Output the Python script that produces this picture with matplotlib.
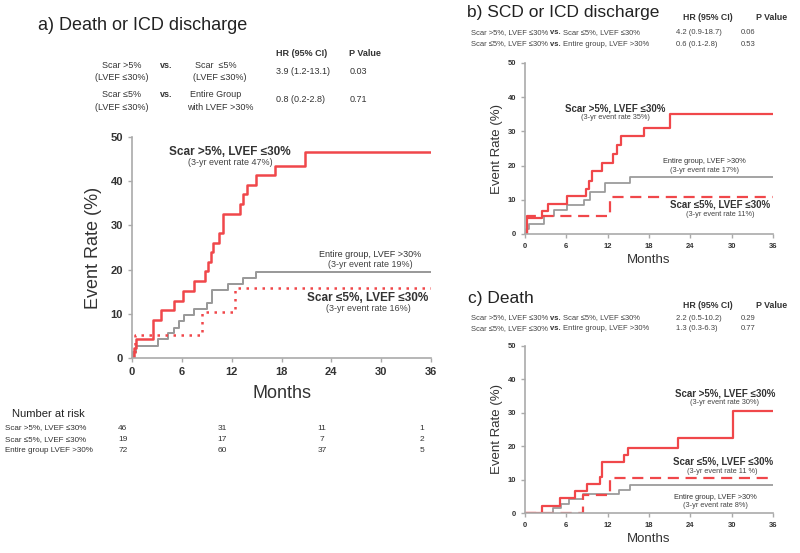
import matplotlib
matplotlib.use("Agg")
import matplotlib.pyplot as plt
import matplotlib.transforms as mtransforms

plt.rcParams['font.family'] = ['Liberation Sans', 'DejaVu Sans']

RED = '#f0474a'
GRAY = '#9a9a9a'
TXT = '#333333'

# ---- panel a: death or ICD discharge ----
a_scar_hi_t = [0.2, 0.5, 2.5, 3.5, 5.0, 6.2, 7.5, 8.8, 9.1, 9.5, 9.8, 10.5, 11.0, 13.0, 13.4, 13.9, 14.9, 17.2, 20.8]
a_scar_hi_y = [2.2, 4.4, 8.7, 10.9, 13.0, 15.2, 17.4, 19.6, 21.7, 23.9, 26.1, 28.3, 32.6, 34.8, 37.0, 39.1, 41.3, 43.5, 46.7]
a_scar_lo_t = [0.4, 8.4, 12.4]
a_scar_lo_y = [5.3, 10.5, 15.8]
a_entire_t = [0.1, 0.5, 3.1, 4.3, 5.1, 5.6, 6.3, 7.5, 9.0, 9.6, 11.6, 13.4, 14.9]
a_entire_y = [1.4, 2.8, 4.2, 5.6, 6.9, 8.3, 9.7, 11.1, 12.5, 15.3, 16.7, 18.1, 19.4]

# ---- panel b: SCD or ICD discharge ----
b_scar_hi_t = [0.25, 2.4, 3.4, 6.1, 8.8, 9.3, 9.75, 11.2, 12.8, 13.3, 14.0, 17.3, 21.0]
b_scar_hi_y = [4.6, 6.6, 8.8, 11.0, 13.2, 15.4, 18.4, 20.9, 23.3, 26.0, 28.6, 31.1, 35.0]
b_scar_lo_t = [0.3, 12.4]
b_scar_lo_y = [5.3, 10.8]
b_entire_t = [0.1, 0.6, 2.8, 4.2, 6.1, 8.5, 9.5, 11.6, 15.3]
b_entire_y = [1.4, 2.8, 5.2, 7.0, 8.5, 10.0, 12.3, 15.0, 16.8]

# ---- panel c: death ----
c_scar_hi_t = [2.4, 5.1, 7.3, 9.0, 10.9, 11.2, 14.4, 15.0, 22.2, 30.2]
c_scar_hi_y = [2.2, 4.4, 6.5, 8.7, 10.9, 15.2, 17.4, 19.6, 22.6, 30.4]
c_scar_lo_t = [8.4, 12.4]
c_scar_lo_y = [5.3, 10.6]
c_entire_t = [4.1, 5.2, 6.4, 8.4, 13.6, 15.3]
c_entire_y = [1.4, 2.8, 4.2, 5.6, 6.9, 8.4]

risk_months = [0, 12, 24, 36]
risk_labels = ['Scar >5%, LVEF \u226430%', 'Scar \u22645%, LVEF \u226430%', 'Entire group LVEF >30%']
risk_counts = [[46, 31, 11, 1], [19, 17, 7, 2], [72, 60, 37, 5]]

W, H = 800, 553
fig = plt.figure(figsize=(8, 5.53), dpi=100)


def fx(x):
    return x / W


def fy(y):
    return 1 - y / H


def km(t, y):
    return [0] + t + [36], [0] + y + [y[-1]]


def style_ax(ax, tsize, lsize, lpad):
    ax.set_xlim(0, 36)
    ax.set_ylim(0, 50)
    ax.set_xticks(range(0, 37, 6))
    ax.set_yticks(range(0, 51, 10))
    for s in ['top', 'right']:
        ax.spines[s].set_visible(False)
    for s in ['left', 'bottom']:
        ax.spines[s].set_color('#aaaaaa')
        ax.spines[s].set_linewidth(1.2)
    ax.tick_params(colors='#aaaaaa', labelcolor=TXT, labelsize=tsize, length=3, width=1)
    for lab in ax.get_xticklabels() + ax.get_yticklabels():
        lab.set_fontweight('bold')
    ax.set_xlabel('Months', fontsize=lsize, color=TXT, labelpad=lpad)
    ax.set_ylabel('Event Rate (%)', fontsize=lsize, color=TXT, labelpad=lpad)
    ax.patch.set_alpha(0)


def curves(ax, hi, lo, ent, lo_style, lw):
    x, y = km(*ent)
    ax.step(x, y, where='post', color=GRAY, lw=lw * 0.8)
    x, y = km(*lo)
    ax.step(x, y, where='post', color=RED, lw=lw, linestyle=lo_style)
    x, y = km(*hi)
    ax.step(x, y, where='post', color=RED, lw=lw)


def label(ax, x, y, head, sub, hsize, ssize, bold=True, gap=2.3):
    ax.text(x, y, head, ha='center', va='center', fontsize=hsize,
            fontweight='bold' if bold else 'normal', color=TXT)
    ax.text(x, y - gap, sub, ha='center', va='center', fontsize=ssize, color='#444444')


def hr_rows(rows):
    for left, right, hr, p, y0 in rows:
        t = fig.text(fx(471), fy(y0), left, fontsize=5.5, va='center', color='#444444')
        fig.canvas.draw()
        bb = t.get_window_extent()
        t2 = fig.text(bb.x1 / fig.dpi / fig.get_figwidth(), fy(y0), 'vs. ', fontsize=5.5,
                      fontweight='bold', va='center', color=TXT)
        fig.canvas.draw()
        bb2 = t2.get_window_extent()
        fig.text(bb2.x1 / fig.dpi / fig.get_figwidth(), fy(y0), right, fontsize=5.5, va='center', color='#444444')
        fig.text(fx(676), fy(y0), hr, fontsize=5.5, va='center', color='#444444')
        fig.text(fx(741), fy(y0), p, fontsize=5.5, va='center', color='#444444')


# ===== panel a =====
axa = fig.add_axes([fx(132), fy(358), fx(431) - fx(132), fy(137) - fy(358)])
curves(axa, (a_scar_hi_t, a_scar_hi_y), (a_scar_lo_t, a_scar_lo_y),
       (a_entire_t, a_entire_y), (0, (1, 2.2)), 1.8)
style_ax(axa, 8, 13, 6)
label(axa, 11.8, 46.6, 'Scar >5%, LVEF \u226430%', '(3-yr event rate 47%)', 8.5, 6.5)
label(axa, 28.7, 23.4, 'Entire group, LVEF >30%', '(3-yr event rate 19%)', 6.5, 6.5, bold=False)
label(axa, 28.4, 13.6, 'Scar \u22645%, LVEF \u226430%', '(3-yr event rate 16%)', 8.5, 6.5)

fig.text(fx(38), fy(25), 'a) Death or ICD discharge', fontsize=13, color='#222222', va='center')
fig.text(fx(302), fy(53), 'HR (95% CI)', fontsize=6.5, fontweight='bold', ha='center', va='center', color=TXT)
fig.text(fx(365), fy(53), 'P Value', fontsize=6.5, fontweight='bold', ha='center', va='center', color=TXT)
rows_a = [
    ('Scar >5%', '(LVEF \u226430%)', 'Scar  \u22645%', '(LVEF \u226430%)', '3.9 (1.2-13.1)', '0.03', 66),
    ('Scar \u22645%', '(LVEF \u226430%)', 'Entire Group', 'with LVEF >30%', '0.8 (0.2-2.8)', '0.71', 95),
]
for l1, l2, r1, r2, hr, p, y0 in rows_a:
    fig.text(fx(122), fy(y0), l1, fontsize=6.5, ha='center', va='center', color=TXT)
    fig.text(fx(122), fy(y0 + 12), l2, fontsize=6.5, ha='center', va='center', color=TXT)
    fig.text(fx(166), fy(y0), 'vs.', fontsize=6.5, fontweight='bold', ha='center', va='center', color=TXT)
    fig.text(fx(216), fy(y0), r1, fontsize=6.5, ha='center', va='center', color=TXT)
    fig.text(fx(220), fy(y0 + 12), r2, fontsize=6.5, ha='center', va='center', color=TXT)
    fig.text(fx(276), fy(y0 + 5), hr, fontsize=6.5, ha='left', va='center', color=TXT)
    fig.text(fx(350), fy(y0 + 5), p, fontsize=6.5, ha='left', va='center', color=TXT)

# number at risk
fig.text(fx(12), fy(414), 'Number at risk', fontsize=8, va='center', color='#222222')
trans = mtransforms.blended_transform_factory(axa.transData, fig.transFigure)
for i, (name, counts) in enumerate(zip(risk_labels, risk_counts)):
    yy = fy(428 + i * 11.5)
    fig.text(fx(5), yy, name, fontsize=5.8, va='center', color='#333333')
    for m, c in zip(risk_months, counts):
        axa.text(m - 1.1, yy, str(c), transform=trans, fontsize=6, ha='center', va='center', color='#333333')

# ===== panel b =====
axb = fig.add_axes([fx(525), fy(234), fx(773) - fx(525), fy(63) - fy(234)])
curves(axb, (b_scar_hi_t, b_scar_hi_y), (b_scar_lo_t, b_scar_lo_y),
       (b_entire_t, b_entire_y), (0, (5, 3)), 1.6)
style_ax(axb, 5.5, 9.5, 3)
label(axb, 13.1, 36.8, 'Scar >5%, LVEF \u226430%', '(3-yr event rate 35%)', 7, 5.3, gap=2.7)
label(axb, 26.1, 21.3, 'Entire group, LVEF >30%', '(3-yr event rate 17%)', 5.3, 5.3, bold=False, gap=2.6)
label(axb, 28.3, 8.5, 'Scar \u22645%, LVEF \u226430%', '(3-yr event rate 11%)', 7, 5.3, gap=2.7)

fig.text(fx(467), fy(13), 'b) SCD or ICD discharge', fontsize=12.5, color='#222222', va='center')
fig.text(fx(708), fy(18), 'HR (95% CI)', fontsize=6.3, fontweight='bold', ha='center', va='center', color=TXT)
fig.text(fx(772), fy(18), 'P Value', fontsize=6.3, fontweight='bold', ha='center', va='center', color=TXT)
hr_rows([
    ('Scar >5%, LVEF \u226430% ', 'Scar \u22645%, LVEF \u226430%', '4.2 (0.9-18.7)', '0.06', 33),
    ('Scar \u22645%, LVEF \u226430% ', 'Entire group, LVEF >30%', '0.6 (0.1-2.8)', '0.53', 44),
])

# ===== panel c =====
axc = fig.add_axes([fx(525), fy(513), fx(773) - fx(525), fy(346) - fy(513)])
curves(axc, (c_scar_hi_t, c_scar_hi_y), (c_scar_lo_t, c_scar_lo_y),
       (c_entire_t, c_entire_y), (0, (5, 3)), 1.6)
style_ax(axc, 5.5, 9.5, 3)
label(axc, 29.0, 35.9, 'Scar >5%, LVEF \u226430%', '(3-yr event rate 30%)', 7, 5.3, gap=2.9)
label(axc, 28.7, 15.3, 'Scar \u22645%, LVEF \u226430%', '(3-yr event rate 11 %)', 7, 5.3, gap=2.9)
label(axc, 27.6, 4.6, 'Entire group, LVEF >30%', '(3-yr event rate 8%)', 5.3, 5.3, bold=False, gap=2.5)

fig.text(fx(468), fy(298), 'c) Death', fontsize=12.5, color='#222222', va='center')
fig.text(fx(708), fy(305), 'HR (95% CI)', fontsize=6.3, fontweight='bold', ha='center', va='center', color=TXT)
fig.text(fx(772), fy(305), 'P Value', fontsize=6.3, fontweight='bold', ha='center', va='center', color=TXT)
hr_rows([
    ('Scar >5%, LVEF \u226430% ', 'Scar \u22645%, LVEF \u226430%', '2.2 (0.5-10.2)', '0.29', 318),
    ('Scar \u22645%, LVEF \u226430% ', 'Entire group, LVEF >30%', '1.3 (0.3-6.3)', '0.77', 329),
])

fig.savefig('out.png', dpi=100)
